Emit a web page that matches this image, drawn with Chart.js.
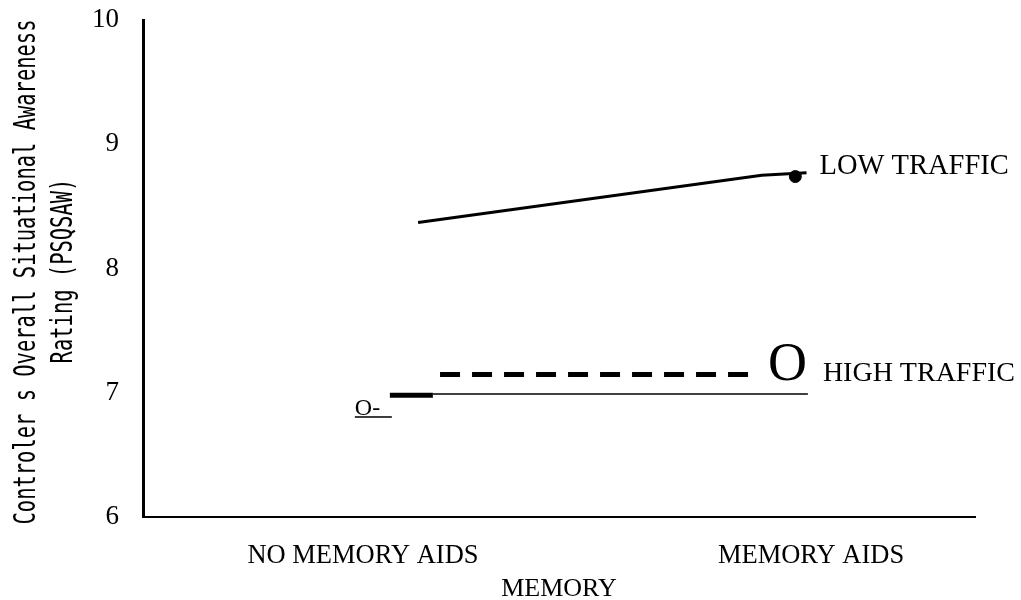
<!DOCTYPE html>
<html lang="en">
<head>
<meta charset="UTF-8">
<title>Controller situational awareness</title>
<script src="https://cdn.jsdelivr.net/npm/chart.js@4.4.1/dist/chart.umd.min.js"></script>
<style>
  html, body { margin: 0; padding: 0; background: #fff; }
  #wrap { width: 1021px; height: 600px; }
</style>
</head>
<body>
<div id="wrap"><canvas id="saChart" width="1021" height="600"></canvas></div>
<script>
// x positions 0 and 1 are the two memory conditions
const categories = ['NO MEMORY AIDS', 'MEMORY AIDS'];
const yTicks = [6, 7, 8, 9, 10];

// low traffic
const lowX = [0.123, 0.89, 0.99];
const lowY = [8.37, 8.75, 8.77];
const lowDotX = [0.965];
const lowDotY = [8.74];

// high traffic (thin line, short thick stub, dashed line)
const highX = [0.156, 0.993];
const highY = [6.99, 6.99];
const highStubX = [0.06, 0.156];
const highStubY = [6.98, 6.98];
const highDashX = [0.172, 0.879];
const highDashY = [7.147, 7.147];

const seriesLabels = ['LOW TRAFFIC', 'HIGH TRAFFIC'];
const markerText = ['O', 'O-'];
const yTitle = ['Controler s Overall Situational Awareness', 'Rating (PSQSAW)'];
const xTitle = 'MEMORY';

const SERIF = '"Liberation Serif", "Times New Roman", serif';
const MONO = '"DejaVu Sans Mono", "Liberation Mono", monospace';

function pts(xs, ys) {
    return xs.map((x, i) => ({ x: x, y: ys[i] }));
}

function lineSet(xs, ys, width, dash) {
    return {
        data: pts(xs, ys),
        borderColor: '#000',
        borderWidth: width,
        borderDash: dash || [],
        pointRadius: 0,
        tension: 0,
        fill: false
    };
}

// text labels next to the lines + rotated y title
const annotate = {
    id: 'annotate',
    afterDatasetsDraw(chart) {
        const ctx = chart.ctx;
        const xs = chart.scales.x, ys = chart.scales.y;
        ctx.save();
        ctx.fillStyle = '#000';
        ctx.textBaseline = 'alphabetic';
        ctx.textAlign = 'left';

        // LOW TRAFFIC
        ctx.font = '28.5px ' + SERIF;
        let px = xs.getPixelForValue(lowX[lowX.length - 1]);
        let py = ys.getPixelForValue(lowY[lowY.length - 1]);
        ctx.fillText(seriesLabels[0], px + 13, py + 1);

        // big O and HIGH TRAFFIC
        px = xs.getPixelForValue(highX[1]);
        py = ys.getPixelForValue(highY[1]);
        ctx.font = '54px ' + SERIF;
        ctx.fillText(markerText[0], px - 40, py - 14);
        ctx.font = '28px ' + SERIF;
        ctx.fillText(seriesLabels[1], px + 15, py - 13);

        // small underlined O-
        px = xs.getPixelForValue(highStubX[0]);
        py = ys.getPixelForValue(highStubY[0]);
        ctx.font = '24px ' + SERIF;
        ctx.fillText(markerText[1], px - 35, py + 20);
        ctx.fillRect(px - 35, py + 21, 37, 1.5);

        // y axis title: two rotated lines of a tall, squeezed mono face
        ctx.font = '30px ' + MONO;
        ctx.textAlign = 'center';
        const squeeze = 505 / ctx.measureText(yTitle[0]).width;
        const rows = [[35, 272], [72, 271]];
        yTitle.forEach((t, i) => {
            const [bx, cy] = rows[i];
            ctx.save();
            ctx.translate(bx, cy);
            ctx.rotate(-Math.PI / 2);
            ctx.scale(squeeze, 1);
            ctx.fillText(t, 0, 0);
            ctx.restore();
        });
        ctx.restore();
    }
};

new Chart(document.getElementById('saChart'), {
    type: 'line',
    data: {
        datasets: [
            lineSet(lowX, lowY, 3),
            {
                data: pts(lowDotX, lowDotY),
                showLine: false,
                pointRadius: 6,
                pointBackgroundColor: '#000',
                pointBorderColor: '#000'
            },
            lineSet(highX, highY, 1.5),
            lineSet(highStubX, highStubY, 5),
            lineSet(highDashX, highDashY, 5, [20, 12])
        ]
    },
    options: {
        responsive: false,
        animation: false,
        events: [],
        layout: { padding: { top: 20, right: 46, left: 0, bottom: 0 } },
        plugins: { legend: { display: false }, tooltip: { enabled: false } },
        scales: {
            x: {
                type: 'linear',
                min: -0.491,
                max: 1.366,
                afterBuildTicks: s => { s.ticks = categories.map((c, i) => ({ value: i })); },
                afterFit: s => { s.height = 83; s.paddingLeft = 0; s.paddingRight = 0; },
                grid: { display: false },
                border: { display: true, color: '#000', width: 2 },
                ticks: {
                    color: '#000',
                    padding: 15,
                    font: { family: SERIF, size: 26.5 },
                    callback: v => categories[v]
                },
                title: {
                    display: true,
                    text: xTitle,
                    color: '#000',
                    font: { family: SERIF, size: 26 },
                    padding: { top: 0, bottom: -5 }
                }
            },
            y: {
                min: yTicks[0],
                max: yTicks[yTicks.length - 1],
                afterBuildTicks: s => { s.ticks = yTicks.map(v => ({ value: v })); },
                afterFit: s => { s.width = 143; s.paddingTop = 0; s.paddingBottom = 0; },
                grid: { display: false },
                border: { display: true, color: '#000', width: 3 },
                ticks: {
                    color: '#000',
                    padding: 16,
                    font: { family: SERIF, size: 27 }
                }
            }
        }
    },
    plugins: [annotate]
});
</script>
</body>
</html>
